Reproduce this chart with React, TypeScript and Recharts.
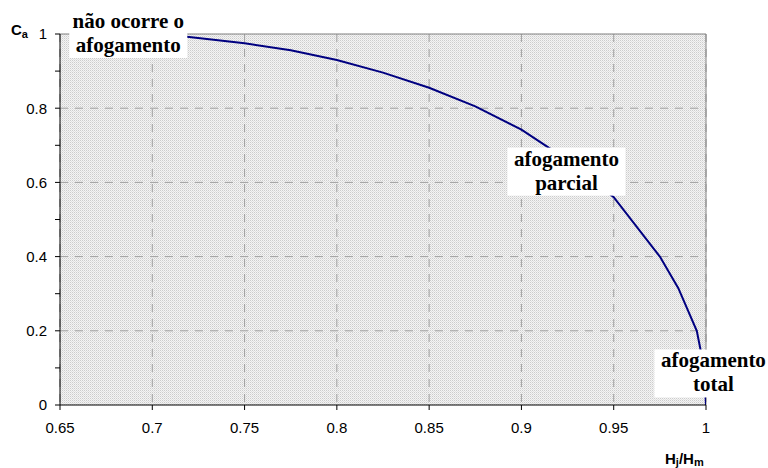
import React from "react";
import {
  LineChart,
  Line,
  XAxis,
  YAxis,
  CartesianGrid,
  ReferenceLine,
  ReferenceDot,
} from "recharts";

const ratio = [0.7, 0.72, 0.75, 0.775, 0.8, 0.825, 0.85, 0.875, 0.9, 0.925, 0.95, 0.975, 0.985, 0.995, 0.999, 1.0];
const coef = [1.0, 0.992, 0.975, 0.956, 0.93, 0.896, 0.855, 0.805, 0.742, 0.66, 0.56, 0.4, 0.315, 0.2, 0.1, 0];

const xTicks = [0.65, 0.7, 0.75, 0.8, 0.85, 0.9, 0.95, 1];
const yTicks = [0, 0.1, 0.2, 0.3, 0.4, 0.5, 0.6, 0.7, 0.8, 0.9, 1];
const yLabelled = [0, 0.2, 0.4, 0.6, 0.8, 1];
const gridY = [0.2, 0.4, 0.6, 0.8];

const notes = [
  { x: 0.687, y: 1.0, lines: ["não ocorre o", "afogamento"] },
  { x: 0.9244, y: 0.629, lines: ["afogamento", "parcial"] },
  { x: 1.004, y: 0.085, lines: ["afogamento", "total"] },
];

const data = ratio.map((r, i) => ({ r, c: coef[i] }));

const SERIF = "'Liberation Serif', 'Times New Roman', serif";
const SANS = "'Liberation Sans', Arial, sans-serif";

const NoteBox = ({ cx, cy, lines }: any) => {
  const w = 118;
  const h = 48;
  return (
    <g>
      <rect x={cx - w / 2} y={cy - h / 2} width={w} height={h} fill="#ffffff" />
      {lines.map((t: string, i: number) => (
        <text
          key={i}
          x={cx}
          y={cy - h / 2 + 18 + i * 24}
          textAnchor="middle"
          fontFamily={SERIF}
          fontWeight="bold"
          fontSize={21}
          fill="#000000"
        >
          {t}
        </text>
      ))}
    </g>
  );
};

const fmtY = (v: number) => {
  const ok = yLabelled.some((t) => Math.abs(t - v) < 1e-9);
  return ok ? String(v) : "";
};

export default function App() {
  return (
    <div style={{ position: "absolute", left: 0, top: 0, width: 768, height: 468, background: "#fff" }}>
      <LineChart
        width={768}
        height={468}
        data={data}
        margin={{ top: 34, right: 62, bottom: 33, left: 10 }}
      >
        <defs>
          <pattern id="bgpat" width="2" height="2" patternUnits="userSpaceOnUse">
            <rect width="2" height="2" fill="#f4f4f4" />
            <rect width="1" height="1" fill="#cccccc" />
            <rect x="1" y="1" width="1" height="1" fill="#e0e0e0" />
          </pattern>
        </defs>
        <CartesianGrid
          horizontal={false}
          stroke="#a0a0a0"
          strokeDasharray="8 7"
          fill="url(#bgpat)"
          fillOpacity={1}
        />
        {gridY.map((g) => (
          <ReferenceLine key={g} y={g} stroke="#a0a0a0" strokeDasharray="8 7" />
        ))}
        <ReferenceLine y={1} stroke="#808080" />
        <ReferenceLine x={1} stroke="#808080" />
        <XAxis
          dataKey="r"
          type="number"
          domain={[0.65, 1]}
          ticks={xTicks}
          allowDataOverflow
          height={30}
          tickSize={5}
          tickMargin={12}
          stroke="#000"
          tick={{ fill: "#000", fontSize: 15, fontFamily: SANS }}
        />
        <YAxis
          type="number"
          domain={[0, 1]}
          ticks={yTicks}
          tickFormatter={fmtY}
          width={50}
          tickSize={5}
          tickMargin={8}
          stroke="#000"
          tick={{ fill: "#000", fontSize: 15, fontFamily: SANS }}
        />
        <Line
          type="linear"
          dataKey="c"
          stroke="#000080"
          strokeWidth={2}
          dot={false}
          isAnimationActive={false}
        />
        {notes.map((n, i) => (
          <ReferenceDot
            key={i}
            x={n.x}
            y={n.y}
            r={1}
            ifOverflow="visible"
            shape={(p: any) => <NoteBox cx={p.cx} cy={p.cy} lines={n.lines} />}
          />
        ))}
        <text x={11} y={35} fontFamily={SANS} fontWeight="bold" fontSize={15} fill="#000">
          C<tspan fontSize={11} dy={3}>a</tspan>
        </text>
        <text x={665} y={464} fontFamily={SANS} fontWeight="bold" fontSize={15} fill="#000">
          H<tspan fontSize={11} dy={2}>j</tspan>
          <tspan dy={-2}>/H</tspan>
          <tspan fontSize={11} dy={2}>m</tspan>
        </text>
      </LineChart>
    </div>
  );
}
